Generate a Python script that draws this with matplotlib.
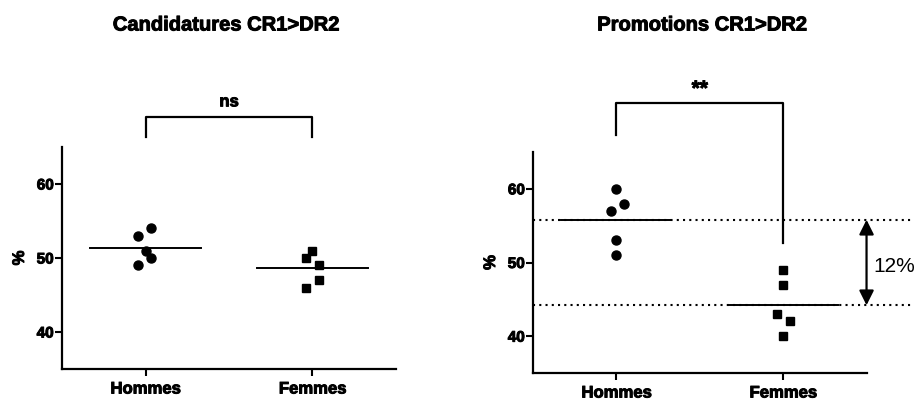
import matplotlib
matplotlib.use("Agg")
import matplotlib.pyplot as plt
import matplotlib.patheffects as pe
import numpy as np

plt.rcParams['font.family'] = ['Liberation Sans', 'DejaVu Sans']

# Données
groupes = ["Hommes", "Femmes"]

cand_hommes = [53, 54, 51, 50, 49]
cand_femmes = [51, 50, 49, 47, 46]
cand_jit_h = [-0.045, 0.035, 0.0, 0.035, -0.045]
cand_jit_f = [0.0, -0.04, 0.04, 0.04, -0.04]

promo_hommes = [60, 58, 57, 53, 51]
promo_femmes = [49, 47, 43, 42, 40]
promo_jit_h = [0.0, 0.045, -0.035, 0.0, 0.0]
promo_jit_f = [0.0, 0.0, -0.04, 0.04, 0.0]

# contour léger pour épaissir le gras
gras = [pe.withStroke(linewidth=0.7, foreground="black")]


def style_axes(ax):
    for s in ["top", "right"]:
        ax.spines[s].set_visible(False)
    for s in ["left", "bottom"]:
        ax.spines[s].set_linewidth(1.6)
    ax.set_xlim(0.5, 2.5)
    ax.set_ylim(35, 65)
    ax.set_yticks([40, 50, 60])
    ax.set_xticks([1, 2])
    ax.set_xticklabels(groupes, fontsize=12, fontweight="bold")
    ax.tick_params(axis="y", length=5, width=1.5, pad=1, labelsize=11)
    ax.tick_params(axis="x", length=5, width=1.5, pad=4)
    for lbl in ax.get_yticklabels() + ax.get_xticklabels():
        lbl.set_fontweight("bold")
        lbl.set_path_effects(gras)
    ax.set_ylabel("%", fontsize=12, fontweight="bold", labelpad=7, path_effects=gras)


def scatter_groupe(ax, hommes, femmes, jit_h, jit_f):
    xh = 1 + np.array(jit_h)
    xf = 2 + np.array(jit_f)
    ax.plot(xh, hommes, "o", color="black", ms=6.5, clip_on=False)
    ax.plot(xf, femmes, "s", color="black", ms=6.3, clip_on=False)
    mh = np.mean(hommes)
    mf = np.mean(femmes)
    ax.plot([1 - 0.33, 1 + 0.33], [mh, mh], color="black", lw=1.4)
    ax.plot([2 - 0.33, 2 + 0.33], [mf, mf], color="black", lw=1.4)
    return mh, mf


fig = plt.figure(figsize=(9.16, 4), dpi=100)

# Candidatures
ax1 = fig.add_axes([0.0677, 0.0775, 0.3646, 0.555])
style_axes(ax1)
scatter_groupe(ax1, cand_hommes, cand_femmes, cand_jit_h, cand_jit_f)
ax1.plot([1, 1, 2, 2], [66.4, 69.1, 69.1, 66.4], color="black", lw=1.6, clip_on=False)
ax1.text(1.5, 71.1, "ns", ha="center", va="center", fontsize=12, fontweight="bold",
         path_effects=gras)
fig.text(0.247, 0.9375, "Candidatures CR1>DR2", ha="center", va="center",
         fontsize=14.5, fontweight="bold", path_effects=gras)

# Promotions
ax2 = fig.add_axes([0.582, 0.0675, 0.364, 0.5525])
style_axes(ax2)
mh, mf = scatter_groupe(ax2, promo_hommes, promo_femmes, promo_jit_h, promo_jit_f)
ax2.plot([1, 1, 2, 2], [67.3, 71.6, 71.6, 52.7], color="black", lw=1.6, clip_on=False)
ax2.text(1.5, 73.5, "**", ha="center", va="center", fontsize=15, fontweight="bold",
         path_effects=gras)
for m in [mh, mf]:
    ax2.plot([0.5, 2.77], [m, m], color="black", lw=1.5, dashes=(1, 2), clip_on=False)
ax2.annotate("", xy=(2.5, mh), xytext=(2.5, mf),
             arrowprops=dict(arrowstyle="<|-|>", color="black", lw=1.6,
                             mutation_scale=22, shrinkA=0, shrinkB=0),
             annotation_clip=False)
ax2.text(2.665, (mh + mf) / 2 - 0.6, "12%", ha="center", va="center", fontsize=15)
fig.text(0.7665, 0.9375, "Promotions CR1>DR2", ha="center", va="center",
         fontsize=14.5, fontweight="bold", path_effects=gras)

fig.savefig("out.png", dpi=100, facecolor="white")
